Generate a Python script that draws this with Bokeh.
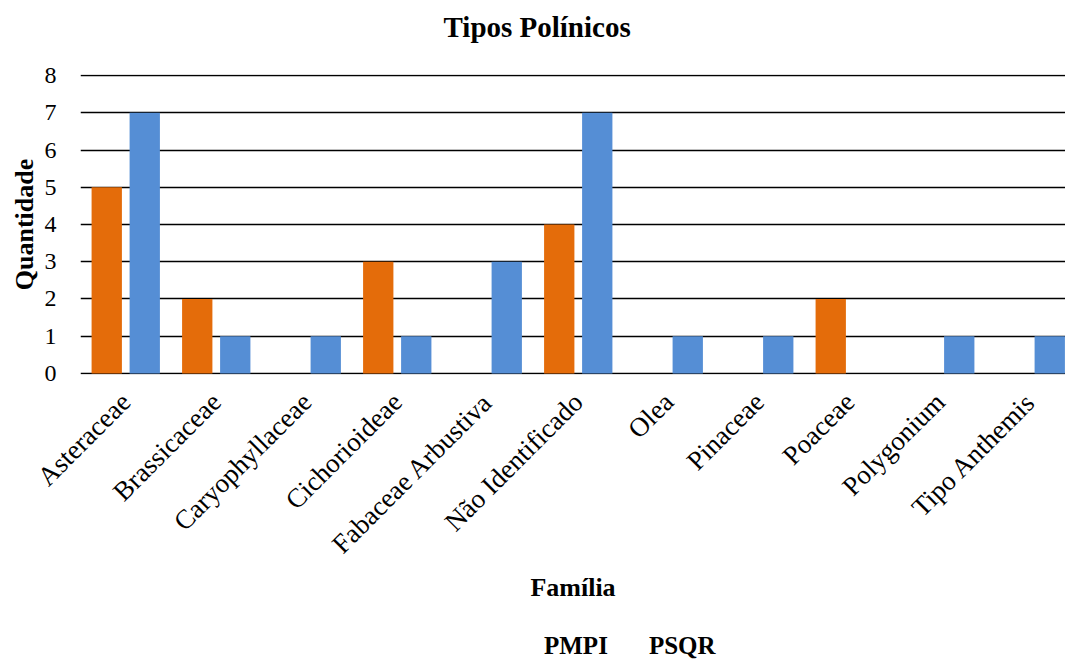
import math
from bokeh.plotting import figure
from bokeh.layouts import column
from bokeh.models import ColumnDataSource, FixedTicker, Range1d, Legend, LegendItem
from bokeh.transform import dodge
from bokeh.embed import file_html
from bokeh.resources import INLINE

title_text = "Tipos Polínicos"
categories = ["Asteraceae", "Brassicaceae", "Caryophyllaceae", "Cichorioideae",
              "Fabaceae Arbustiva", "Não Identificado", "Olea", "Pinaceae",
              "Poaceae", "Polygonium", "Tipo Anthemis"]
pmpi = [5, 2, 0, 3, 0, 4, 0, 0, 2, 0, 0]
psqr = [7, 1, 1, 1, 3, 7, 1, 1, 0, 1, 1]
series_names = ["PMPI", "PSQR"]
y_ticks = [0, 1, 2, 3, 4, 5, 6, 7, 8]

idx = list(range(len(categories)))
src = ColumnDataSource(dict(x=idx, pmpi=pmpi, psqr=psqr))

FONT = "Liberation Serif"
ORANGE = "#E46C0A"
BLUE = "#558ED5"

p = figure(frame_width=985, frame_height=300, output_backend="svg",
           toolbar_location=None, x_range=Range1d(-0.5, 10.384),
           y_range=Range1d(-0.027, 8.027), min_border_left=80, min_border_right=0,
           min_border_top=74, min_border_bottom=0, title=title_text + "\n ")

p.vbar(x=dodge("x", -0.21), top="pmpi", width=0.335, source=src,
       fill_color=ORANGE, line_color=None)
p.vbar(x=dodge("x", 0.21), top="psqr", width=0.335, source=src,
       fill_color=BLUE, line_color=None)

p.title.align = "left"
p.title.offset = 363
p.title.vertical_align = "top"
p.title.standoff = 2
p.title.text_line_height = 0.9
p.title.text_font = FONT
p.title.text_font_size = "29px"
p.title.text_font_style = "bold"
p.title.text_color = "black"

p.outline_line_color = None
p.xgrid.grid_line_color = None
p.ygrid.grid_line_color = "black"
p.ygrid.grid_line_width = 1.5
p.ygrid.ticker = FixedTicker(ticks=y_ticks)

p.yaxis.ticker = FixedTicker(ticks=y_ticks)
p.yaxis.axis_line_color = None
p.yaxis.major_tick_line_color = None
p.yaxis.minor_tick_line_color = None
p.yaxis.major_label_text_font = FONT
p.yaxis.major_label_text_font_size = "24px"
p.yaxis.major_label_text_color = "black"
p.yaxis.major_label_standoff = 18
p.yaxis.axis_label = "Quantidade"
p.yaxis.axis_label_text_font = FONT
p.yaxis.axis_label_text_font_size = "26px"
p.yaxis.axis_label_text_font_style = "bold"
p.yaxis.axis_label_text_color = "black"
p.yaxis.axis_label_standoff = 3

p.xaxis.ticker = FixedTicker(ticks=idx)
p.xaxis.major_label_overrides = {i: c for i, c in zip(idx, categories)}
p.xaxis.major_label_orientation = math.pi / 4
p.xaxis.axis_line_color = None
p.xaxis.major_tick_line_color = None
p.xaxis.minor_tick_line_color = None
p.xaxis.major_label_text_font = FONT
p.xaxis.major_label_text_font_size = "27px"
p.xaxis.major_label_text_color = "black"
p.xaxis.major_label_standoff = 17
p.xaxis.axis_label = "Família"
p.xaxis.axis_label_text_font = FONT
p.xaxis.axis_label_text_font_size = "26px"
p.xaxis.axis_label_text_font_style = "bold"
p.xaxis.axis_label_text_color = "black"
p.xaxis.axis_label_standoff = 0

# legend strip below the chart (legend swatches only, no data drawn here)
pl = figure(width=1065, height=58, output_backend="svg", toolbar_location=None,
            x_range=Range1d(0, 1), y_range=Range1d(0, 1),
            x_axis_type=None, y_axis_type=None,
            min_border_left=0, min_border_right=0, min_border_top=0, min_border_bottom=0)
pl.outline_line_color = None
pl.grid.visible = False
l1 = pl.vbar(x=[], top=[], width=0.1, fill_color=ORANGE, line_color=None)
l2 = pl.vbar(x=[], top=[], width=0.1, fill_color=BLUE, line_color=None)

legend = Legend(items=[LegendItem(label=series_names[0], renderers=[l1]),
                       LegendItem(label=series_names[1], renderers=[l2])],
                orientation="horizontal", location=(445, 2),
                label_text_font=FONT, label_text_font_size="25px",
                label_text_font_style="bold", label_text_color="black",
                glyph_width=13, glyph_height=13, spacing=22,
                label_standoff=6, border_line_color=None,
                background_fill_alpha=0, margin=0, padding=0)
pl.add_layout(legend)

layout = column(p, pl, spacing=0)
open("out.html", "w").write(file_html(layout, INLINE))
